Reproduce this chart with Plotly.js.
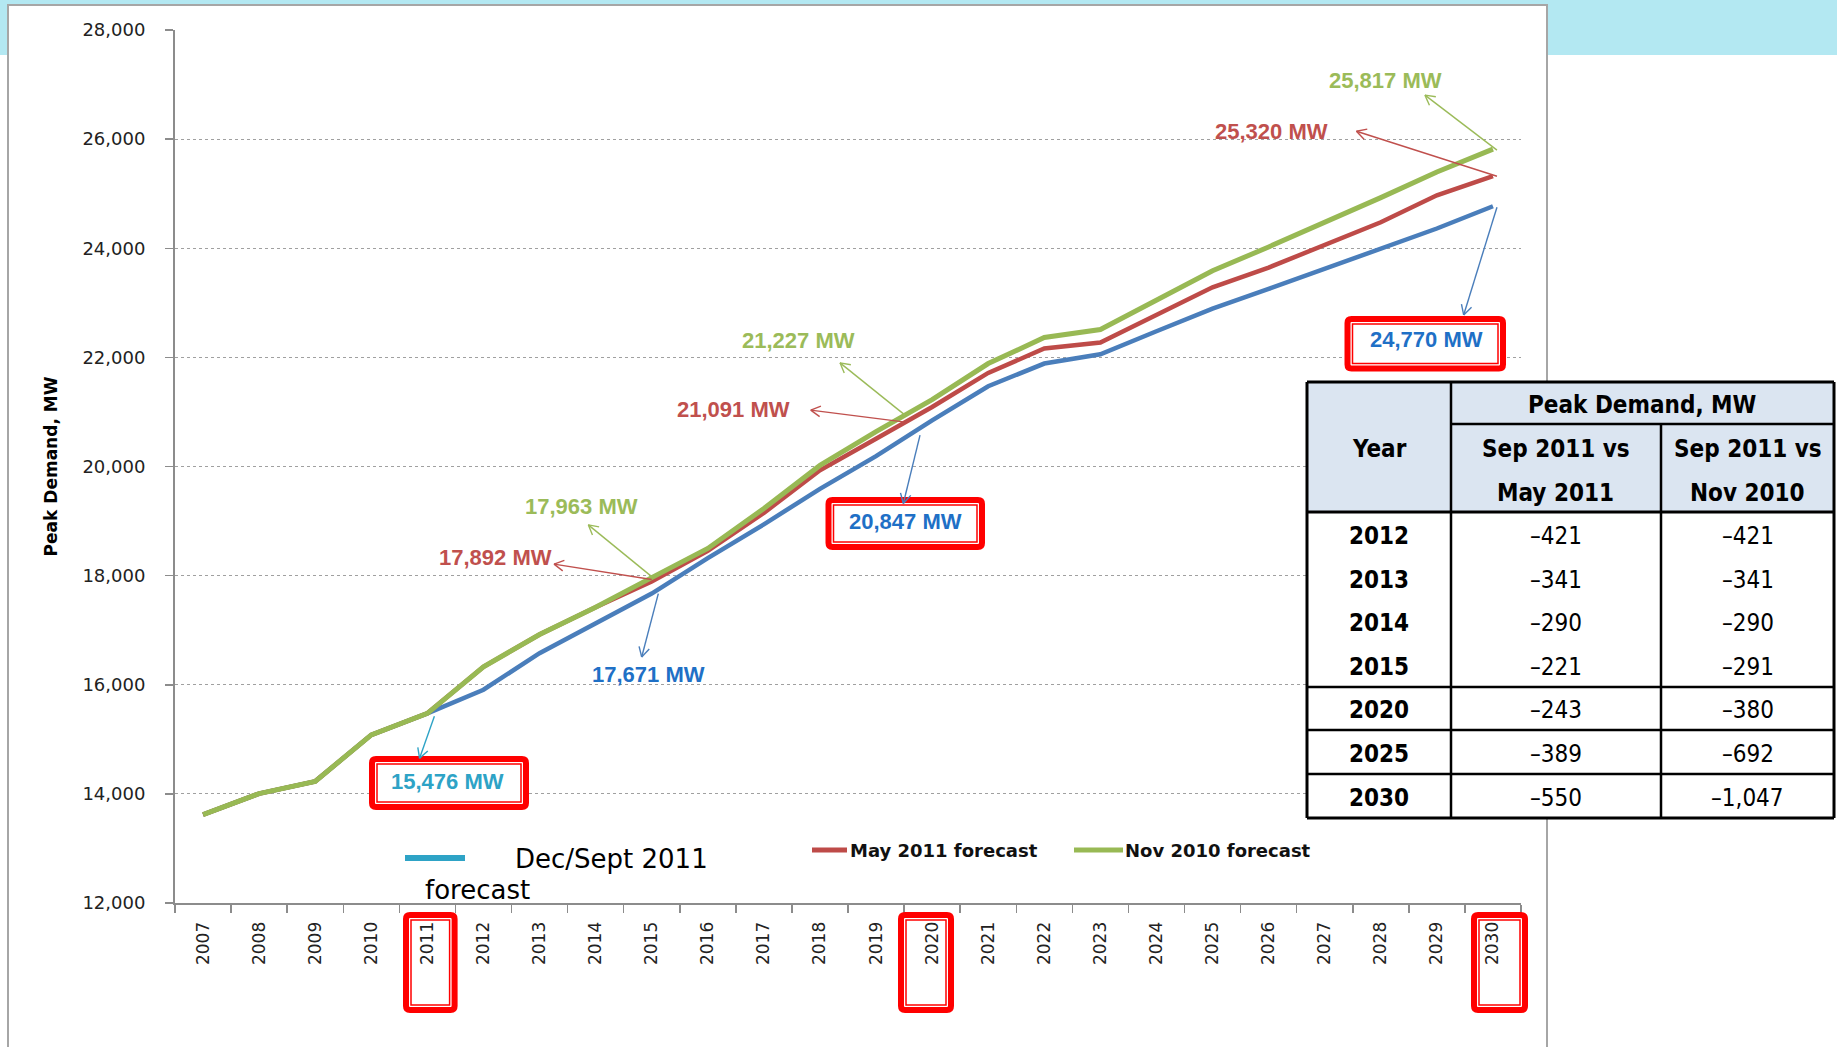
<!DOCTYPE html>
<html><head><meta charset="utf-8">
<script src="https://cdn.plot.ly/plotly-3.0.1.min.js"></script>
<style>html,body{margin:0;padding:0;background:#fff;}#chart{width:1837px;height:1047px;}</style>
</head><body><div id="chart"></div>
<script>
// ---------------- DATA ----------------
const years = ['2007','2008','2009','2010','2011','2012','2013','2014','2015','2016','2017','2018',
               '2019','2020','2021','2022','2023','2024','2025','2026','2027','2028','2029','2030'];
const decSept2011 = [13620,14006,14230,15081,15476,15909,16579,17130,17671,18320,18940,19590,
                     20190,20847,21471,21887,22058,22479,22895,23254,23624,23992,24362,24770];
const may2011     = [13620,14006,14230,15081,15476,16330,16920,17420,17892,18454,19150,19930,
                     20510,21091,21715,22162,22272,22778,23284,23646,24060,24476,24971,25320];
const nov2010     = [13620,14006,14230,15081,15476,16330,16920,17420,17963,18498,19230,20020,
                     20640,21227,21887,22364,22510,23041,23587,24024,24470,24928,25398,25817];
const seriesNames = ['Dec/Sept 2011 forecast','May 2011 forecast','Nov 2010 forecast'];

const tableYears = ['2012','2013','2014','2015','2020','2025','2030'];
const vsMay2011  = [-421,-341,-290,-221,-243,-389,-550];
const vsNov2010  = [-421,-341,-290,-291,-380,-692,-1047];
const tableHead  = ['Year','Peak Demand, MW','Sep 2011 vs','May 2011','Sep 2011 vs','Nov 2010'];

// ---------------- STYLE / GEOMETRY ----------------
const W = 1837, H = 1047;
const L = 175, R = 1521, T = 30, B = 903;
const Y0 = 12000, Y1 = 28000;
const fx = p => (p - L) / (R - L);
const fy = p => (B - p) / (B - T);
const pxPerCat = (R - L) / years.length;
const valPerPx = (Y1 - Y0) / (B - T);
const fmt = n => Math.abs(n).toLocaleString('en-US');
const dashNum = n => (n < 0 ? '\u2013' : '') + fmt(n);

const C = {blue:'#4a7ebb', red:'#be4b48', green:'#98b954',
           blueTxt:'#1f70c6', redTxt:'#c0504d', greenTxt:'#9bbb59', teal:'#2ea3c6'};

const traces = [
  {x: years, y: decSept2011, name: seriesNames[0], mode:'lines', line:{color:C.blue, width:4.5}, showlegend:false},
  {x: years, y: may2011,     name: seriesNames[1], mode:'lines', line:{color:C.red, width:4.5}, showlegend:false},
  {x: years, y: nov2010,     name: seriesNames[2], mode:'lines', line:{color:C.green, width:5}, showlegend:false}
];

const shapes = [];
const annotations = [];

// slide background + frame
shapes.push({type:'rect', xref:'paper', yref:'paper', layer:'below',
  x0: fx(0), x1: fx(W), y0: fy(0), y1: fy(55), fillcolor:'#b3e8f2', line:{width:0}});
shapes.push({type:'rect', xref:'paper', yref:'paper', layer:'below',
  x0: fx(8), x1: fx(1547), y0: fy(5), y1: fy(1120), fillcolor:'#ffffff', line:{color:'#a6a6a6', width:2}});

// red highlight boxes
function rrPath(x0,y0,x1,y1,r){
  const P = (x,y) => fx(x)+','+fy(y);
  return 'M'+P(x0+r,y0)+' L'+P(x1-r,y0)+' Q'+P(x1,y0)+' '+P(x1,y0+r)+
         ' L'+P(x1,y1-r)+' Q'+P(x1,y1)+' '+P(x1-r,y1)+' L'+P(x0+r,y1)+
         ' Q'+P(x0,y1)+' '+P(x0,y1-r)+' L'+P(x0,y0+r)+' Q'+P(x0,y0)+' '+P(x0+r,y0)+' Z';
}
function redBox(x0,y0,x1,y1,filled){
  shapes.push({type:'path', xref:'paper', yref:'paper', layer:'above',
    path: rrPath(x0+3,y0+3,x1-3,y1-3,4), fillcolor: filled ? '#ffffff' : 'rgba(0,0,0,0)',
    line:{color:'#ff0000', width:6}});
  shapes.push({type:'rect', xref:'paper', yref:'paper', layer:'above',
    x0: fx(x0+8), x1: fx(x1-8), y0: fy(y0+8), y1: fy(y1-8),
    line:{color:'#ff0000', width:1.5}});
}
redBox(369, 756, 529, 810, true);     // 15,476
redBox(825.5, 497, 985, 550, true);   // 20,847
redBox(1344.5, 316, 1506, 371.5, true); // 24,770
redBox(403, 912, 457.6, 1013, false); // 2011 tick
redBox(898, 912, 954, 1013, false);   // 2020 tick
redBox(1471, 912, 1528, 1013, false); // 2030 tick

// callout labels + arrows (arrow tail anchored at the data point, in data coordinates)
const series = {blue: decSept2011, red: may2011, green: nov2010};
const callouts = [
  {s:'blue',  yr:'2011', color:C.teal,    tx:447.5, ty:781.5, xs:7,   ys:-3,  ax:-14.8, ay:42},
  {s:'blue',  yr:'2015', color:C.blueTxt, tx:648,   ty:674,   xs:6.6, ys:0,   ax:-16.6, ay:63.4, ac:C.blue},
  {s:'red',   yr:'2015', color:C.redTxt,  tx:495,   ty:557.5, xs:0,   ys:2,   ax:-97.7, ay:-15.4},
  {s:'green', yr:'2015', color:C.greenTxt,tx:581,   ty:506.7, xs:0,   ys:1,   ax:-63.4, ay:-51.8},
  {s:'red',   yr:'2020', color:C.redTxt,  tx:733,   ty:409,   xs:-28.8, ys:-14.9, ax:-92.6, ay:-11.7},
  {s:'green', yr:'2020', color:C.greenTxt,tx:798,   ty:341,   xs:-27.1, ys:-15.6, ax:-65, ay:-52.3},
  {s:'blue',  yr:'2020', color:C.blueTxt, tx:905,   ty:521.5, xs:-12.1, ys:-14.9, ax:-16.7, ay:68.3, ac:C.blue},
  {s:'green', yr:'2030', color:C.greenTxt,tx:1385,  ty:80,    xs:4, ys:-1, ax:-72,   ay:-55},
  {s:'red',   yr:'2030', color:C.redTxt,  tx:1271,  ty:131,   xs:4, ys:0,  ax:-140.5, ay:-45},
  {s:'blue',  yr:'2030', color:C.blueTxt, tx:1426,  ty:340,   xs:4, ys:-1, ax:-33.3, ay:107.7, ac:C.blue}
];
callouts.forEach(c => {
  const idx = years.indexOf(c.yr);
  const v = series[c.s][idx];
  annotations.push({xref:'paper', yref:'paper', x: fx(c.tx), y: fy(c.ty), showarrow:false,
    text: fmt(v) + ' MW', xanchor:'center', yanchor:'middle',
    font:{family:'Liberation Sans, Arial, sans-serif', size:22, color:c.color, weight:'bold'}});
  // pixel offsets (down positive) relative to the data point
  const tx = c.xs, ty = -c.ys, hx = c.xs + c.ax, hy = -c.ys + c.ay;
  const toX = p => idx + p / pxPerCat;
  const toY = p => v - p * valPerPx;
  const col = c.ac || c.color;
  const ln = (ax0, ay0, ax1, ay1) => shapes.push({type:'line', xref:'x', yref:'y', layer:'above',
    x0: toX(ax0), y0: toY(ay0), x1: toX(ax1), y1: toY(ay1), line:{color: col, width:1.4}});
  ln(tx, ty, hx, hy);
  const ang = Math.atan2(hy - ty, hx - tx), arm = 11, spread = 0.5;
  ln(hx - arm*Math.cos(ang - spread), hy - arm*Math.sin(ang - spread), hx, hy);
  ln(hx - arm*Math.cos(ang + spread), hy - arm*Math.sin(ang + spread), hx, hy);
});

// custom legend
const legFont = {family:'DejaVu Sans, sans-serif', size:18, color:'#111', weight:'bold'};
shapes.push({type:'line', xref:'paper', yref:'paper', layer:'above', x0:fx(405), x1:fx(465), y0:fy(858), y1:fy(858), line:{color:C.teal, width:6}});
annotations.push({xref:'paper', yref:'paper', x:fx(513), y:fy(859), xanchor:'left', yanchor:'middle', showarrow:false,
  text:'Dec/Sept 2011', font:{family:'DejaVu Sans, sans-serif', size:26, color:'#000'}});
annotations.push({xref:'paper', yref:'paper', x:fx(423), y:fy(890), xanchor:'left', yanchor:'middle', showarrow:false,
  text:'forecast', font:{family:'DejaVu Sans, sans-serif', size:26, color:'#000'}});
shapes.push({type:'line', xref:'paper', yref:'paper', layer:'above', x0:fx(812), x1:fx(847), y0:fy(850), y1:fy(850), line:{color:C.red, width:5}});
annotations.push({xref:'paper', yref:'paper', x:fx(848), y:fy(850), xanchor:'left', yanchor:'middle', showarrow:false,
  text: seriesNames[1], font: legFont});
shapes.push({type:'line', xref:'paper', yref:'paper', layer:'above', x0:fx(1074), x1:fx(1123), y0:fy(850), y1:fy(850), line:{color:C.green, width:5}});
annotations.push({xref:'paper', yref:'paper', x:fx(1123), y:fy(850), xanchor:'left', yanchor:'middle', showarrow:false,
  text: seriesNames[2], font: legFont});

// table
const tX = [1307, 1451, 1661, 1834];
const tY = {top:382, sub:424, head:512};
shapes.push({type:'rect', xref:'paper', yref:'paper', layer:'above', x0:fx(tX[0]), x1:fx(tX[3]), y0:fy(tY.top), y1:fy(tY.head), fillcolor:'#dbe5f1', line:{width:0}});
shapes.push({type:'rect', xref:'paper', yref:'paper', layer:'above', x0:fx(tX[0]), x1:fx(tX[3]), y0:fy(tY.head), y1:fy(818), fillcolor:'#ffffff', line:{width:0}});
const tl = (x0,y0,x1,y1,w) => shapes.push({type:'line', xref:'paper', yref:'paper', layer:'above',
  x0:fx(x0), x1:fx(x1), y0:fy(y0), y1:fy(y1), line:{color:'#000', width:w||2.5}});
tl(tX[0], tY.top, tX[3], tY.top, 3); tl(tX[0], 818, tX[3], 818, 3);
tl(tX[0], tY.top, tX[0], 818, 3); tl(tX[3], tY.top, tX[3], 818, 3);
tl(tX[1], tY.top, tX[1], 818); tl(tX[2], tY.sub, tX[2], 818);
tl(tX[1], tY.sub, tX[3], tY.sub); tl(tX[0], tY.head, tX[3], tY.head, 3);
tl(tX[0], 687, tX[3], 687); tl(tX[0], 730, tX[3], 730); tl(tX[0], 774, tX[3], 774);

const tFont = {family:'DejaVu Sans Condensed, DejaVu Sans, sans-serif', size:24, color:'#000'};
const tBold = Object.assign({}, tFont, {weight:'bold'});
const cx = [(tX[0]+tX[1])/2, (tX[1]+tX[2])/2, (tX[2]+tX[3])/2];
const tt = (x,y,txt,f) => annotations.push({xref:'paper', yref:'paper', x:fx(x), y:fy(y), text:txt,
  showarrow:false, xanchor:'center', yanchor:'middle', font:f});
tt(cx[0], 449, tableHead[0], tBold);
tt((tX[1]+tX[3])/2, 405, tableHead[1], tBold);
tt(cx[1], 449, tableHead[2], tBold); tt(cx[1], 493, tableHead[3], tBold);
tt(cx[2], 449, tableHead[4], tBold); tt(cx[2], 493, tableHead[5], tBold);
const rowY = [536, 580, 623, 667, 710, 754, 798];
tableYears.forEach((yr,i) => {
  tt(cx[0], rowY[i], yr, tBold);
  tt(cx[1], rowY[i], dashNum(vsMay2011[i]), tFont);
  tt(cx[2], rowY[i], dashNum(vsNov2010[i]), tFont);
});

const layout = {
  width: W, height: H,
  margin: {l: L, r: W - R, t: T, b: H - B},
  paper_bgcolor: '#ffffff', plot_bgcolor: 'rgba(0,0,0,0)',
  showlegend: false,
  xaxis: {type:'category', range:[-0.5, years.length - 0.5], fixedrange:true,
    showline:true, linecolor:'#8c8c8c', linewidth:2,
    ticks:'outside', tickson:'boundaries', ticklen:8, tickwidth:1.5, tickcolor:'#8c8c8c',
    tickangle:-90, ticklabelstandoff:10,
    tickfont:{family:'DejaVu Sans, sans-serif', size:17, color:'#222'},
    showgrid:false, zeroline:false},
  yaxis: {range:[Y0, Y1], dtick:2000, tick0:Y0, tickformat:',d', fixedrange:true,
    showline:true, linecolor:'#8c8c8c', linewidth:2,
    ticks:'outside', ticklen:8, tickwidth:1.5, tickcolor:'#8c8c8c', ticklabelstandoff:16,
    tickfont:{family:'DejaVu Sans, sans-serif', size:18, color:'#222'},
    showgrid:true, gridcolor:'#a0a0a0', gridwidth:1, griddash:'dot', zeroline:false,
    title:{text:'Peak Demand, MW', standoff:20,
      font:{family:'DejaVu Sans, sans-serif', size:17, color:'#000', weight:'bold'}}},
  shapes: shapes,
  annotations: annotations
};

Plotly.newPlot('chart', traces, layout, {staticPlot:true, displayModeBar:false});
</script></body></html>
